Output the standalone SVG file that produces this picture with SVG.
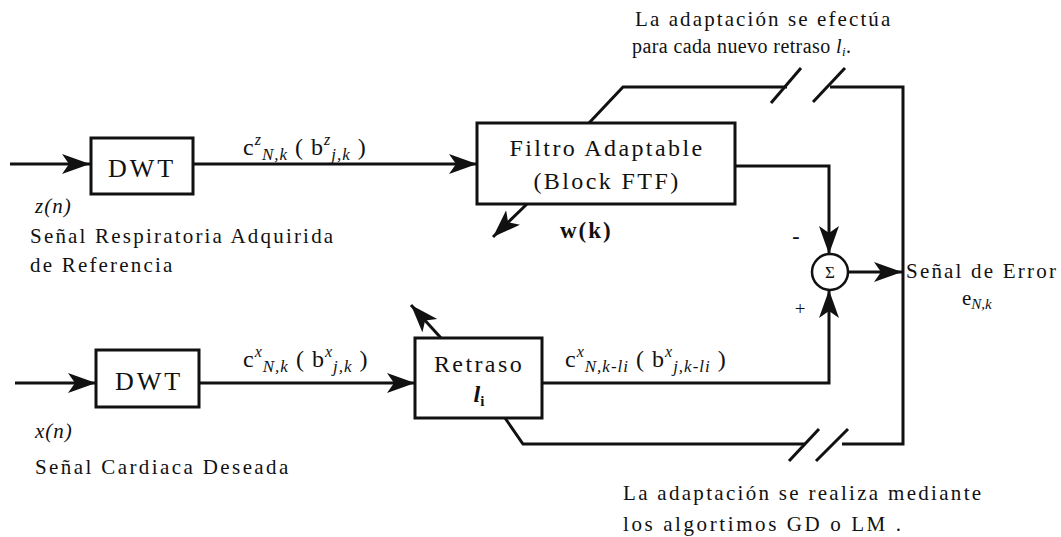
<svg xmlns="http://www.w3.org/2000/svg" width="1061" height="537" viewBox="0 0 1061 537">
<defs>
<marker id="ah" markerUnits="userSpaceOnUse" markerWidth="30" markerHeight="22" refX="28" refY="10" orient="auto">
<path d="M0,0 L28,10 L0,20 L7,10 z" fill="#111"/>
</marker>
</defs>
<g id="connectors" fill="none" stroke="#111" stroke-width="3">
<path d="M10,164 L90,164" marker-end="url(#ah)"/>
<path d="M193,164 L477,164" marker-end="url(#ah)"/>
<path d="M15,383 L96,383" marker-end="url(#ah)"/>
<path d="M199,383 L415,383" marker-end="url(#ah)"/>
<path d="M527,204 L493,237" marker-end="url(#ah)"/>
<path d="M441,338 L411,305" marker-end="url(#ah)"/>
<path d="M735,166 L829,166 L829,254" marker-end="url(#ah)"/>
<path d="M542,383 L829,383 L829,290" marker-end="url(#ah)"/>
<path d="M848,272 L902,272" marker-end="url(#ah)"/>
<path d="M589,123 L623,87 L787,87"/>
<path d="M830,87 L903,87 L903,444 L842,444"/>
<path d="M805,444 L523,444 L505,418"/>
<path d="M771,103 L801,68"/>
<path d="M813,102 L845,68"/>
<path d="M789,461 L819,429"/>
<path d="M816,461 L848,429"/>
</g>
<g id="dwt1">
<rect x="91" y="138" width="102" height="56" fill="#fff" stroke="#111" stroke-width="3"/>
<text font-family="Liberation Serif" x="142" y="177" text-anchor="middle" font-size="26" letter-spacing="3" fill="#111">DWT</text>
</g>
<g id="dwt2">
<rect x="96" y="350" width="103" height="57" fill="#fff" stroke="#111" stroke-width="3"/>
<text font-family="Liberation Serif" x="149" y="390" text-anchor="middle" font-size="26" letter-spacing="3" fill="#111">DWT</text>
</g>
<g id="filtro">
<rect x="477" y="123" width="258" height="81" fill="#fff" stroke="#111" stroke-width="3"/>
<text font-family="Liberation Serif" x="607" y="156" text-anchor="middle" font-size="24" letter-spacing="2.4" fill="#111">Filtro Adaptable</text>
<text font-family="Liberation Serif" x="607" y="189" text-anchor="middle" font-size="24" letter-spacing="2.4" fill="#111">(Block FTF)</text>
</g>
<g id="retraso">
<rect x="415" y="338" width="127" height="80" fill="#fff" stroke="#111" stroke-width="3"/>
<text font-family="Liberation Serif" x="479" y="372" text-anchor="middle" font-size="24" letter-spacing="2.4" fill="#111">Retraso</text>
<text font-family="Liberation Serif" x="479" y="402" text-anchor="middle" font-size="24" font-weight="bold" fill="#111"><tspan font-style="italic">l</tspan><tspan font-size="15" dy="4">i</tspan></text>
</g>
<g id="suma">
<circle cx="830" cy="272" r="18" fill="#fff" stroke="#111" stroke-width="2.5"/>
<text font-family="Liberation Serif" x="830" y="278" text-anchor="middle" font-size="17" fill="#111">Σ</text>
</g>
<g id="labels" fill="#111">
<text font-family="Liberation Serif" font-size="24" letter-spacing="1" x="243" y="155">c<tspan font-style="italic" font-size="16" dy="-10">z</tspan><tspan font-style="italic" font-size="17" dy="15">N,k</tspan><tspan dy="-5"> ( b</tspan><tspan font-style="italic" font-size="16" dy="-10">z</tspan><tspan font-style="italic" font-size="17" dy="15">j,k</tspan><tspan dy="-5"> )</tspan></text>
<text font-family="Liberation Serif" font-size="24" letter-spacing="1" x="243" y="367">c<tspan font-style="italic" font-size="16" dy="-10">x</tspan><tspan font-style="italic" font-size="17" dy="15">N,k</tspan><tspan dy="-5"> ( b</tspan><tspan font-style="italic" font-size="16" dy="-10">x</tspan><tspan font-style="italic" font-size="17" dy="15">j,k</tspan><tspan dy="-5"> )</tspan></text>
<text font-family="Liberation Serif" font-size="24" letter-spacing="1" x="565" y="367">c<tspan font-style="italic" font-size="16" dy="-10">x</tspan><tspan font-style="italic" font-size="17" dy="15">N,k-li</tspan><tspan dy="-5"> ( b</tspan><tspan font-style="italic" font-size="16" dy="-10">x</tspan><tspan font-style="italic" font-size="17" dy="15">j,k-li</tspan><tspan dy="-5"> )</tspan></text>
<text font-family="Liberation Serif" font-size="21" font-style="italic" letter-spacing="1" x="35" y="213">z(n)</text>
<text font-family="Liberation Serif" font-size="21" letter-spacing="2.2" x="30" y="243">Señal Respiratoria Adquirida</text>
<text font-family="Liberation Serif" font-size="21" letter-spacing="2.2" x="30" y="272">de Referencia</text>
<text font-family="Liberation Serif" font-size="21" font-style="italic" letter-spacing="1" x="35" y="438">x(n)</text>
<text font-family="Liberation Serif" font-size="21" letter-spacing="2.4" x="35" y="474">Señal Cardiaca Deseada</text>
<text font-family="Liberation Serif" x="560" y="238" font-weight="bold" font-size="23" letter-spacing="2">w(k)</text>
<text font-family="Liberation Serif" x="796" y="243" font-size="22" font-weight="bold" text-anchor="middle">-</text>
<text font-family="Liberation Serif" x="800" y="315" font-size="19" text-anchor="middle">+</text>
<text font-family="Liberation Serif" font-size="21" letter-spacing="2.2" x="906" y="278">Señal de Error</text>
<text font-family="Liberation Serif" font-size="21" x="962" y="305">e<tspan font-style="italic" font-size="15" dy="4">N,k</tspan></text>
<text font-family="Liberation Serif" font-size="21" letter-spacing="2.1" x="635" y="26">La adaptación se efectúa</text>
<text font-family="Liberation Serif" font-size="20" letter-spacing="0.4" x="632" y="53">para cada nuevo retraso  <tspan font-style="italic">l</tspan><tspan font-style="italic" font-size="13" dy="3">i</tspan><tspan dy="-3">.</tspan></text>
<text font-family="Liberation Serif" font-size="21" letter-spacing="2.3" x="623" y="500">La adaptación se realiza mediante</text>
<text font-family="Liberation Serif" font-size="21" letter-spacing="2.6" x="623" y="531">los algortimos GD o LM .</text>
</g>
</svg>
